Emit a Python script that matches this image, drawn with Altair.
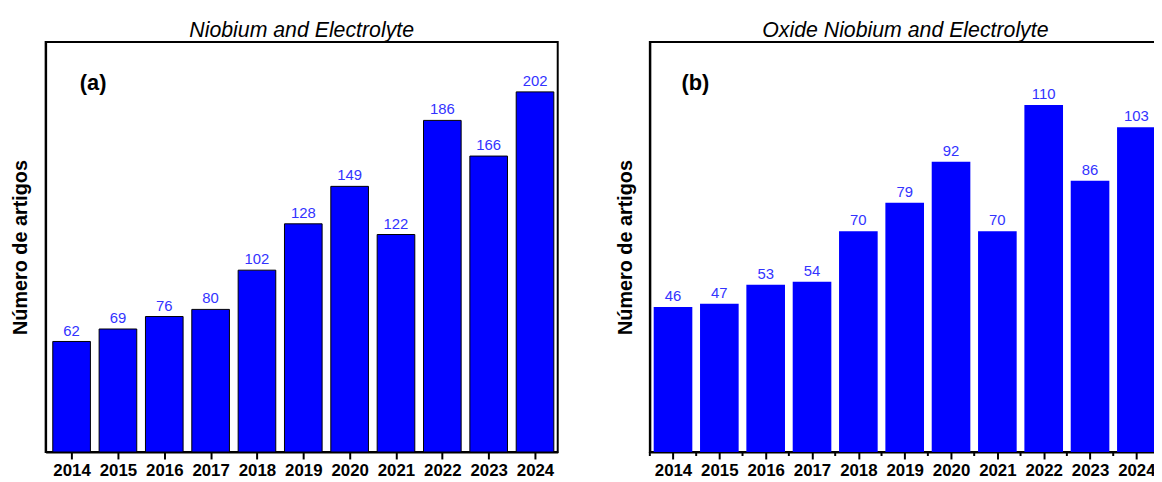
import altair as alt
import pandas as pd

years = [2014, 2015, 2016, 2017, 2018, 2019, 2020, 2021, 2022, 2023, 2024]
counts_a = [62, 69, 76, 80, 102, 128, 149, 122, 186, 166, 202]
counts_b = [46, 47, 53, 54, 70, 79, 92, 70, 110, 86, 103]
title_a = "Niobium and Electrolyte"
title_b = "Oxide Niobium and Electrolyte"
tag_a = "(a)"
tag_b = "(b)"
y_title = "Número de artigos"
minor_ticks = [2013.5, 2014.5, 2015.5, 2016.5, 2017.5, 2018.5, 2019.5,
               2020.5, 2021.5, 2022.5, 2023.5]

FONT = "Liberation Sans"
BLUE = "#0000FF"
LABEL_BLUE = "#3333FF"
H = 414
BL, BT = 60, 50  # fixed layout margins (invisible spacer) around each plot


def panel(counts, title, tag, xdomain, ydomain, width, bar_w, bar_stroke,
          tag_x, minor, spacer_right):
    df = pd.DataFrame({"year": years, "count": counts})
    x = alt.X(
        "year:Q",
        scale=alt.Scale(domain=xdomain, nice=False, zero=False, padding=0),
        axis=alt.Axis(
            values=years, format="d",
            tickSize=7, tickColor="black", tickWidth=2,
            domainColor="black", domainWidth=2,
            labelFont=FONT, labelFontSize=17, labelFontWeight="bold",
            labelColor="black", labelPadding=4, labelFlush=False,
            labelOverlap=False, grid=False, title=None,
        ),
    )
    y = alt.Y(
        "count:Q",
        scale=alt.Scale(domain=ydomain, nice=False),
        axis=alt.Axis(
            title=y_title, labels=False, ticks=False, grid=False,
            domainColor="black", domainWidth=2,
            titleFont=FONT, titleFontSize=20, titleFontWeight="bold",
            titleColor="black", titlePadding=15,
        ),
    )
    base = alt.Chart(df)
    if bar_stroke:
        bars = base.mark_bar(width=bar_w, color=BLUE, stroke="black", strokeWidth=1)
    else:
        bars = base.mark_bar(width=bar_w, color=BLUE)
    bars = bars.encode(x=x, y=y)
    labels = base.mark_text(
        baseline="bottom", dy=-3, fontSize=15, font=FONT, color=LABEL_BLUE
    ).encode(x="year:Q", y="count:Q", text="count:Q")
    tagc = alt.Chart(pd.DataFrame({"t": [tag]})).mark_text(
        fontSize=22, fontWeight="bold", font=FONT, color="black",
        align="center", baseline="middle",
    ).encode(x=alt.value(tag_x), y=alt.value(42), text="t:N")
    ttl = alt.Chart(pd.DataFrame({"t": [title]})).mark_text(
        fontSize=21.5, fontStyle="italic", font=FONT, color="black",
        align="center", baseline="alphabetic",
    ).encode(x=alt.value(width / 2), y=alt.value(-5.5), text="t:N")
    spacer = alt.Chart(pd.DataFrame({"s": [0]})).mark_rect(opacity=0).encode(
        x=alt.value(-BL), x2=alt.value(spacer_right),
        y=alt.value(-BT), y2=alt.value(H + BT),
    )
    layers = [spacer, bars, labels, tagc, ttl]
    if minor:
        mt = alt.Chart(pd.DataFrame({"year": minor_ticks})).mark_rule(
            color="black", strokeWidth=2
        ).encode(x="year:Q", y=alt.value(H), y2=alt.value(H + 4))
        layers.append(mt)
    return alt.layer(*layers).properties(width=width, height=H)


left = panel(counts_a, title_a, tag_a, [2013.44, 2024.49], [0, 230], 517,
             38, True, 48, False, 0)
right = panel(counts_b, title_b, tag_b, [2013.5, 2024.53], [0, 130], 516,
              39, False, 46, True, 560)

# page: svg at (8, 8); plot (a) origin at x=45, plots top at y=39;
# svg clipped to 1154 px wide so nothing overflows the 1162 px window
chart = alt.hconcat(left, right, spacing=31).configure(
    padding={"left": -23, "top": -19, "right": -52, "bottom": -21}
).configure_view(stroke="black", strokeWidth=2)

chart.save("out.html", embed_options={"renderer": "svg", "actions": False})
